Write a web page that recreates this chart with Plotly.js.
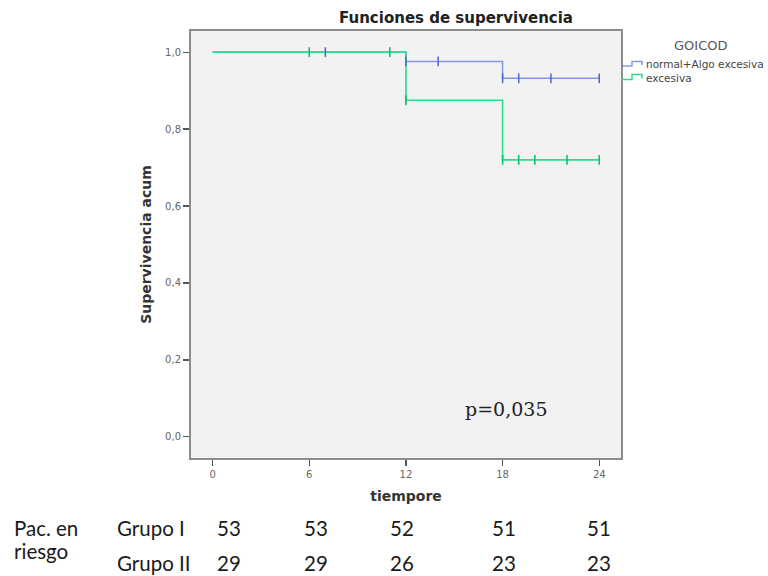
<!DOCTYPE html>
<html>
<head>
<meta charset="utf-8">
<script src="https://cdn.plot.ly/plotly-3.0.1.min.js"></script>
<style>
  html, body { margin: 0; padding: 0; background: #ffffff; }
  #chart { width: 768px; height: 576px; }
</style>
</head>
<body>
<div id="chart"></div>
<script>
// Kaplan-Meier estimates by GOICOD group (months)
const groupNames = ['normal+Algo excesiva', 'excesiva'];

const stepTimesI = [0, 12, 18, 24];
const survivalI = [1.0, 0.976, 0.932, 0.932];
const censoredI = [7, 12, 14, 18, 19, 21, 24];

const stepTimesII = [0, 12, 18, 24];
const survivalII = [1.0, 0.875, 0.72, 0.72];
const censoredII = [6, 11, 12, 18, 19, 20, 22, 24];

// Patients at risk table
const riskTimes = [0, 6, 12, 18, 24];
const riskGroupI = [53, 53, 52, 51, 51];
const riskGroupII = [29, 29, 26, 23, 23];
const riskRowLabels = ['Grupo I', 'Grupo II'];

const pValueText = 'p=0,035';

// ---- layout geometry ----
const W = 768, H = 576;
const M = { l: 191, r: 147, t: 31, b: 118 };
const plotW = W - M.l - M.r, plotH = H - M.t - M.b;
const px = x => (x - M.l) / plotW;          // page px -> paper x
const py = y => (H - M.b - y) / plotH;      // page px -> paper y
const riskColumnX = [229, 316, 402, 504, 599];
const riskRowY = [528, 563];

const blueLine = 'rgba(95,120,222,0.75)';
const blueMark = '#4b64d4';
const greenLine = '#27de8a';
const greenMark = '#00c468';

// survival value of a step function at time t
function survivalAt(times, surv, t) {
  let v = surv[0];
  for (let i = 0; i < times.length; i++) if (times[i] <= t) v = surv[i];
  return v;
}

const traces = [
  {
    x: stepTimesI, y: survivalI, mode: 'lines', name: groupNames[0],
    line: { shape: 'hv', color: blueLine, width: 1.5 }, hoverinfo: 'x+y'
  },
  {
    x: stepTimesII, y: survivalII, mode: 'lines', name: groupNames[1],
    line: { shape: 'hv', color: greenLine, width: 1.6 }, hoverinfo: 'x+y'
  },
  {
    x: censoredI, y: censoredI.map(t => survivalAt(stepTimesI, survivalI, t)),
    mode: 'markers', name: groupNames[0] + ' (censurado)',
    marker: { symbol: 'line-ns', size: 7, line: { color: blueMark, width: 1.5 } }
  },
  {
    x: censoredII, y: censoredII.map(t => survivalAt(stepTimesII, survivalII, t)),
    mode: 'markers', name: groupNames[1] + ' (censurado)',
    marker: { symbol: 'line-ns', size: 7, line: { color: greenMark, width: 1.6 } }
  }
];

const annotations = [];

// legend title and entries
annotations.push({
  xref: 'paper', yref: 'paper', x: px(700), y: py(45), xanchor: 'center', yanchor: 'middle',
  text: 'GOICOD', showarrow: false,
  font: { family: 'DejaVu Sans', size: 13, color: '#555555' }
});
annotations.push({
  xref: 'paper', yref: 'paper', x: px(644), y: py(64), xanchor: 'left', yanchor: 'middle',
  text: groupNames[0], showarrow: false,
  font: { family: 'DejaVu Sans', size: 10.5, color: '#444444' }
});
annotations.push({
  xref: 'paper', yref: 'paper', x: px(644), y: py(78), xanchor: 'left', yanchor: 'middle',
  text: groupNames[1], showarrow: false,
  font: { family: 'DejaVu Sans', size: 10.5, color: '#444444' }
});

// p value
annotations.push({
  xref: 'paper', yref: 'paper', x: px(506), y: py(409), xanchor: 'center', yanchor: 'middle',
  text: pValueText, showarrow: false,
  font: { family: 'DejaVu Serif', size: 19, color: '#222222' }
});

// at-risk table
const tableFont = { family: 'Lato', size: 20.5, color: '#1a1a1a' };
annotations.push({ xref: 'paper', yref: 'paper', x: px(12), y: py(riskRowY[0]), xanchor: 'left', yanchor: 'middle',
  text: 'Pac. en', showarrow: false, font: tableFont });
annotations.push({ xref: 'paper', yref: 'paper', x: px(12), y: py(551), xanchor: 'left', yanchor: 'middle',
  text: 'riesgo', showarrow: false, font: tableFont });
riskRowLabels.forEach((label, r) => {
  annotations.push({ xref: 'paper', yref: 'paper', x: px(115), y: py(riskRowY[r]), xanchor: 'left', yanchor: 'middle',
    text: label, showarrow: false, font: tableFont });
});
riskTimes.forEach((t, i) => {
  annotations.push({ xref: 'paper', yref: 'paper', x: px(riskColumnX[i]), y: py(riskRowY[0]),
    xanchor: 'center', yanchor: 'middle', text: String(riskGroupI[i]), showarrow: false, font: tableFont });
  annotations.push({ xref: 'paper', yref: 'paper', x: px(riskColumnX[i]), y: py(riskRowY[1]),
    xanchor: 'center', yanchor: 'middle', text: String(riskGroupII[i]), showarrow: false, font: tableFont });
});

// step-shaped legend symbols
function legendStep(yLow, yHigh) {
  return 'M ' + px(621) + ',' + py(yLow) + ' L ' + px(632) + ',' + py(yLow) +
         ' L ' + px(632) + ',' + py(yHigh) + ' L ' + px(642) + ',' + py(yHigh) +
         ' L ' + px(642) + ',' + py(yLow - 1);
}
const shapes = [
  { type: 'path', xref: 'paper', yref: 'paper', path: legendStep(66, 61.5),
    line: { color: blueLine, width: 1.5 } },
  { type: 'path', xref: 'paper', yref: 'paper', path: legendStep(79.5, 74.5),
    line: { color: greenLine, width: 1.5 } }
];

const axisCommon = {
  showgrid: false, zeroline: false, showline: true, mirror: true,
  linecolor: '#8c8c8c', linewidth: 2,
  ticks: 'outside', ticklen: 6, tickwidth: 1.3, tickcolor: '#555555',
  tickfont: { family: 'DejaVu Sans', size: 10, color: '#666666' },
  fixedrange: true
};

const layout = {
  width: W, height: H,
  margin: M,
  paper_bgcolor: '#ffffff',
  plot_bgcolor: '#f2f2f2',
  separators: ', ',
  showlegend: false,
  title: {
    text: 'Funciones de supervivencia',
    x: 456 / W, xanchor: 'center', y: 1 - 18 / H, yanchor: 'middle',
    font: { family: 'DejaVu Sans', size: 15, color: '#222222', weight: 'bold' }
  },
  xaxis: Object.assign({}, axisCommon, {
    range: [-1.34, 25.35],
    tickvals: riskTimes,
    title: { text: '<b>tiempore</b>', standoff: 12,
      font: { family: 'DejaVu Sans', size: 14, color: '#333333' } }
  }),
  yaxis: Object.assign({}, axisCommon, {
    range: [-0.055, 1.055],
    tickvals: [0, 0.2, 0.4, 0.6, 0.8, 1.0],
    tickformat: '.1f',
    title: { text: '<b>Supervivencia acum</b>', standoff: 10,
      font: { family: 'DejaVu Sans', size: 14, color: '#333333' } }
  }),
  annotations: annotations,
  shapes: shapes
};

Plotly.newPlot('chart', traces, layout, { displayModeBar: false, staticPlot: true });
</script>
</body>
</html>
